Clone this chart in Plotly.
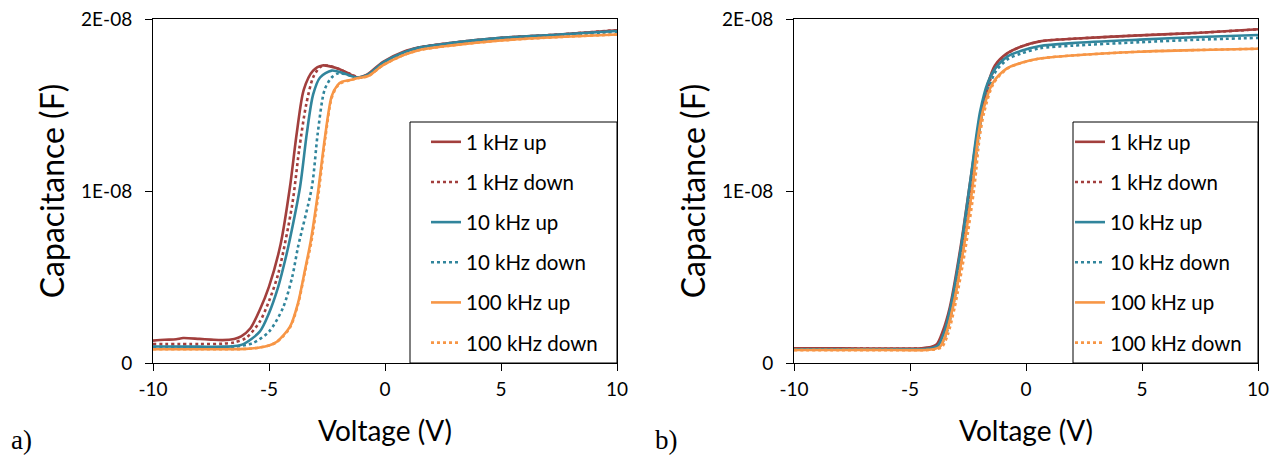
import plotly.graph_objects as go

# page body has an 8px margin; size the figure so it fits the 1285x465 window exactly
OFF = 8
W, H = 1285 - 2 * OFF, 465 - 2 * OFF

# ---------------- Panel a) data (voltage in V, capacitance in nF) ----------------
a_1k_up_v = [-10, -9.5, -9, -8.7, -8, -7.5, -7, -6.5, -6.2, -5.8, -5.4, -5.0, -4.5, -4.1, -3.8, -3.5, -3.1, -2.7, -2.1, -1.6, -1.2, -0.8, -0.1, 0.8, 1.5, 2.8, 5, 7.5, 10]
a_1k_up_c = [1.30, 1.35, 1.38, 1.45, 1.40, 1.36, 1.33, 1.40, 1.55, 2.02, 3.08, 4.44, 6.9, 10.2, 13.4, 15.9, 17.0, 17.3, 17.15, 16.85, 16.6, 16.75, 17.5, 18.1, 18.35, 18.6, 18.9, 19.1, 19.35]

a_1k_down_v = [-10, -8, -7, -6.5, -6, -5.4, -5, -4.6, -4.0, -3.7, -3.4, -3.1, -2.8, -2.5, -2.0, -1.5, -1.1, -0.6, 0, 0.8, 1.5, 2.8, 5, 7.5, 10]
a_1k_down_c = [1.10, 1.10, 1.12, 1.20, 1.45, 2.4, 3.6, 5.2, 9.2, 12.4, 15.0, 16.6, 17.2, 17.3, 17.1, 16.8, 16.6, 16.85, 17.45, 18.05, 18.35, 18.6, 18.9, 19.1, 19.35]

a_10k_up_v = [-10, -8, -7, -6.5, -6.1, -5.4, -5, -4.6, -4.3, -4.1, -3.66, -3.37, -3.1, -2.8, -2.3, -1.8, -1.2, -0.7, -0.1, 0.8, 1.5, 2.8, 5, 7.5, 10]
a_10k_up_c = [0.96, 0.95, 0.95, 0.98, 1.1, 1.82, 2.9, 4.44, 6.0, 7.2, 10.25, 13.35, 15.6, 16.6, 17.0, 16.85, 16.6, 16.8, 17.45, 18.05, 18.35, 18.6, 18.9, 19.1, 19.3]

a_10k_down_v = [-10, -8, -7, -6.5, -5.7, -5.0, -4.4, -4.0, -3.75, -3.15, -2.9, -2.6, -2.3, -2.0, -1.6, -1.2, -0.7, -0.1, 0.8, 1.5, 2.8, 5, 7.5, 10]
a_10k_down_c = [0.93, 0.92, 0.92, 0.95, 1.16, 1.82, 3.2, 5.0, 6.74, 10.25, 13.35, 15.9, 16.6, 16.85, 16.75, 16.6, 16.75, 17.4, 18.0, 18.3, 18.55, 18.85, 19.05, 19.25]

a_100k_up_v = [-10, -8, -7, -6, -5.4, -5.0, -4.66, -4.1, -3.75, -3.45, -3.2, -2.9, -2.59, -2.3, -2.05, -1.85, -1.5, -1.2, -0.7, -0.1, 0.8, 1.5, 2.8, 5, 7.5, 10]
a_100k_up_c = [0.80, 0.80, 0.80, 0.82, 0.90, 1.02, 1.24, 2.1, 3.48, 5.4, 7.1, 9.8, 13.1, 15.5, 16.15, 16.35, 16.45, 16.55, 16.7, 17.3, 17.9, 18.2, 18.45, 18.75, 18.95, 19.1]

a_100k_down_v = [-10, -8, -7, -6, -5.4, -5.0, -4.66, -4.1, -3.75, -3.45, -3.18, -2.88, -2.57, -2.3, -2.05, -1.85, -1.5, -1.2, -0.7, -0.1, 0.8, 1.5, 2.8, 5, 7.5, 10]
a_100k_down_c = [0.80, 0.80, 0.80, 0.82, 0.90, 1.02, 1.22, 2.05, 3.4, 5.3, 7.0, 9.7, 13.1, 15.4, 16.1, 16.3, 16.45, 16.55, 16.7, 17.3, 17.9, 18.2, 18.45, 18.75, 18.95, 19.1]

# ---------------- Panel b) data ----------------
b_1k_up_v = [-10, -8, -6, -5, -4.5, -4.1, -3.84, -3.6, -3.28, -2.84, -2.41, -1.98, -1.65, -1.34, -0.82, -0.2, 0.6, 2, 4.9, 7.5, 10]
b_1k_up_c = [0.86, 0.85, 0.84, 0.84, 0.86, 0.93, 1.1, 1.8, 3.26, 6.57, 10.5, 14.3, 16.2, 17.3, 18.0, 18.4, 18.7, 18.85, 19.05, 19.2, 19.4]

b_1k_down_v = [-10, -8, -6, -5, -4.5, -4.05, -3.8, -3.55, -3.23, -2.79, -2.36, -1.93, -1.6, -1.3, -0.8, -0.2, 0.6, 2, 4.9, 7.5, 10]
b_1k_down_c = [0.85, 0.84, 0.83, 0.83, 0.85, 0.92, 1.08, 1.75, 3.26, 6.57, 10.5, 14.3, 16.2, 17.3, 18.0, 18.4, 18.7, 18.85, 19.05, 19.2, 19.4]

b_10k_up_v = [-10, -8, -6, -5, -4.5, -4.1, -3.8, -3.55, -3.25, -2.82, -2.4, -1.98, -1.65, -1.34, -0.82, -0.2, 0.6, 2, 4.9, 7.5, 10]
b_10k_up_c = [0.79, 0.79, 0.79, 0.79, 0.80, 0.85, 1.0, 1.7, 3.26, 6.57, 10.6, 14.6, 16.3, 17.1, 17.8, 18.15, 18.43, 18.6, 18.8, 18.95, 19.07]

b_10k_down_v = [-10, -8, -6, -5, -4.5, -4.0, -3.7, -3.45, -3.15, -2.72, -2.3, -1.9, -1.58, -1.28, -0.8, -0.2, 0.6, 2, 4.9, 7.5, 10]
b_10k_down_c = [0.78, 0.78, 0.78, 0.78, 0.79, 0.84, 0.98, 1.65, 3.26, 6.57, 10.5, 14.4, 16.1, 17.0, 17.65, 18.0, 18.3, 18.45, 18.65, 18.8, 18.9]

b_100k_up_v = [-10, -8, -6, -5, -4.5, -4.0, -3.7, -3.45, -3.15, -2.7, -2.3, -2.07, -1.85, -1.42, -0.82, -0.2, 0.6, 2, 4.9, 7.5, 10]
b_100k_up_c = [0.76, 0.76, 0.76, 0.75, 0.75, 0.80, 0.95, 1.7, 3.26, 6.57, 10.3, 13.1, 14.7, 16.3, 17.13, 17.45, 17.7, 17.88, 18.1, 18.2, 18.27]

b_100k_down_v = [-10, -8, -6, -5, -4.5, -3.92, -3.62, -3.37, -3.07, -2.62, -2.22, -2.0, -1.8, -1.4, -0.82, -0.2, 0.6, 2, 4.9, 7.5, 10]
b_100k_down_c = [0.75, 0.75, 0.75, 0.74, 0.74, 0.79, 0.93, 1.65, 3.26, 6.57, 10.3, 13.1, 14.6, 16.25, 17.1, 17.45, 17.7, 17.88, 18.1, 18.2, 18.27]

series_names = ["1 kHz up", "1 kHz down", "10 kHz up", "10 kHz down", "100 kHz up", "100 kHz down"]
series_colors = ["#A23F3D", "#A23F3D", "#31859C", "#31859C", "#F79646", "#F79646"]
series_dash = ["solid", "dot", "solid", "dot", "solid", "dot"]

x_ticks = [-10, -5, 0, 5, 10]
x_tick_text = ["-10", "-5", "0", "5", "10"]
y_ticks = [0, 1e-8, 2e-8]
y_tick_text = ["0", "1E-08", "2E-08"]

panel_a = [(a_1k_up_v, a_1k_up_c), (a_1k_down_v, a_1k_down_c), (a_10k_up_v, a_10k_up_c),
           (a_10k_down_v, a_10k_down_c), (a_100k_up_v, a_100k_up_c), (a_100k_down_v, a_100k_down_c)]
panel_b = [(b_1k_up_v, b_1k_up_c), (b_1k_down_v, b_1k_down_c), (b_10k_up_v, b_10k_up_c),
           (b_10k_down_v, b_10k_down_c), (b_100k_up_v, b_100k_up_c), (b_100k_down_v, b_100k_down_c)]

fig = go.Figure()

for panel, (xa, ya, leg) in [(panel_a, ("x", "y", "legend")), (panel_b, ("x2", "y2", "legend2"))]:
    for i, (v, c) in enumerate(panel):
        fig.add_trace(go.Scatter(
            x=v, y=[val * 1e-9 for val in c], mode="lines", name=series_names[i],
            line=dict(color=series_colors[i], width=2.6, dash=series_dash[i], shape="spline", smoothing=0.8),
            xaxis=xa, yaxis=ya, legend=leg, legendgroup=leg + str(i),
        ))

font_main = "Lato, 'Open Sans', sans-serif"

def px_x(p):
    return (p - OFF) / W

def px_y(p):
    return 1 - (p - OFF) / H

ydom = [px_y(363), px_y(19)]
axis_common = dict(showline=True, linecolor="black", linewidth=1, mirror=True,
                   ticks="outside", ticklen=7, tickwidth=1, tickcolor="black",
                   showgrid=False, zeroline=False, automargin=False, ticklabeloverflow="allow",
                   tickfont=dict(family=font_main, size=19, color="black"))

xa_cfg = dict(axis_common, range=[-10, 10], tickvals=x_ticks, ticktext=x_tick_text, ticklabelstandoff=2,
              title=dict(text="Voltage (V)", font=dict(family=font_main, size=28, color="black"), standoff=22))
ya_cfg = dict(axis_common, range=[0, 2e-8], tickvals=y_ticks, ticktext=y_tick_text, ticklabelstandoff=9,
              title=dict(text="Capacitance (F)", font=dict(family=font_main, size=32, color="black"), standoff=6))

legend_common = dict(bgcolor="rgba(0,0,0,0)", borderwidth=0, xanchor="left", yanchor="top",
                     font=dict(family=font_main, size=20.5, color="black"),
                     tracegroupgap=10.5, itemwidth=30)

fig.update_layout(
    width=W, height=H, margin=dict(l=0, r=0, t=0, b=0),
    paper_bgcolor="white", plot_bgcolor="white",
    xaxis=dict(xa_cfg, domain=[px_x(153), px_x(617)], anchor="y"),
    yaxis=dict(ya_cfg, domain=ydom, anchor="x"),
    xaxis2=dict(xa_cfg, domain=[px_x(794), px_x(1258)], anchor="y2"),
    yaxis2=dict(ya_cfg, domain=ydom, anchor="x2"),
    legend=dict(legend_common, x=px_x(426), y=px_y(122)),
    legend2=dict(legend_common, x=px_x(1070), y=px_y(122)),
    shapes=[
        dict(type="rect", xref="paper", yref="paper", x0=px_x(410), x1=px_x(617), y0=px_y(363), y1=px_y(122),
             line=dict(color="black", width=1), fillcolor="white", layer="above"),
        dict(type="rect", xref="paper", yref="paper", x0=px_x(1073), x1=px_x(1258), y0=px_y(363), y1=px_y(122),
             line=dict(color="black", width=1), fillcolor="white", layer="above"),
    ],
    annotations=[
        dict(text="a)", xref="paper", yref="paper", x=px_x(9), y=px_y(440), xanchor="left", yanchor="middle",
             showarrow=False, font=dict(family="Liberation Serif, serif", size=27, color="black")),
        dict(text="b)", xref="paper", yref="paper", x=px_x(653), y=px_y(440), xanchor="left", yanchor="middle",
             showarrow=False, font=dict(family="Liberation Serif, serif", size=27, color="black")),
    ],
)

fig.write_html("out.html")
